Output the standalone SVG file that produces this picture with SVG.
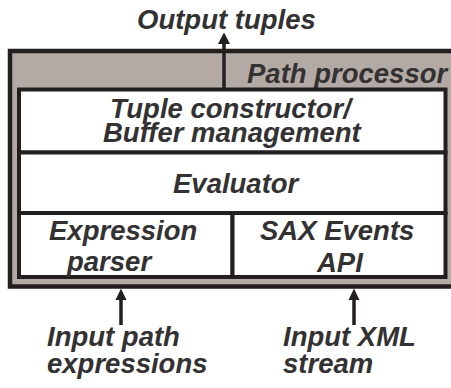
<svg xmlns="http://www.w3.org/2000/svg" width="451" height="388" viewBox="0 0 451 388">
<style>
.t{font-family:"Liberation Sans",Arial,Helvetica,sans-serif;font-weight:bold;font-style:italic;font-size:27.5px;fill:#333132}
.box{fill:#ffffff;stroke:#231f20;stroke-width:4}
.ln{stroke:#231f20;stroke-width:3.5;fill:none}
.ah{fill:#231f20}
</style>
<rect width="451" height="388" fill="#ffffff"/>
<g id="path-processor">
<rect x="10" y="51" width="446" height="235.5" fill="#b3aaa6" stroke="#231f20" stroke-width="4.5"/>
<text class="t" x="247" y="83">Path processor</text>
</g>
<g id="tuple-constructor">
<rect class="box" x="19" y="89.5" width="426.5" height="63"/>
<text class="t" x="110" y="118">Tuple constructor/</text>
<text class="t" x="103" y="142">Buffer management</text>
</g>
<g id="evaluator">
<rect class="box" x="19" y="152.5" width="426.5" height="60.5"/>
<text class="t" x="173" y="193">Evaluator</text>
</g>
<g id="expression-parser">
<rect class="box" x="19" y="213" width="213.5" height="64"/>
<text class="t" x="49" y="240">Expression</text>
<text class="t" x="67" y="271">parser</text>
</g>
<g id="sax-events-api">
<rect class="box" x="232.5" y="213" width="213" height="64"/>
<text class="t" x="260" y="240">SAX Events</text>
<text class="t" x="317" y="272">API</text>
</g>
<g id="connectors">
<line class="ln" x1="224" y1="88" x2="224" y2="42"/>
<polygon class="ah" points="218,44 224,32.5 230,44"/>
<line class="ln" x1="121" y1="325" x2="121" y2="298"/>
<polygon class="ah" points="115.5,300 121,288.5 126.5,300"/>
<line class="ln" x1="354" y1="325" x2="354" y2="298"/>
<polygon class="ah" points="348.5,300 354,288.5 359.5,300"/>
</g>
<g id="labels">
<text class="t" x="137" y="29">Output tuples</text>
<text class="t" x="47" y="346">Input path</text>
<text class="t" x="47" y="373">expressions</text>
<text class="t" x="283" y="346">Input XML</text>
<text class="t" x="283" y="373">stream</text>
</g>
</svg>
